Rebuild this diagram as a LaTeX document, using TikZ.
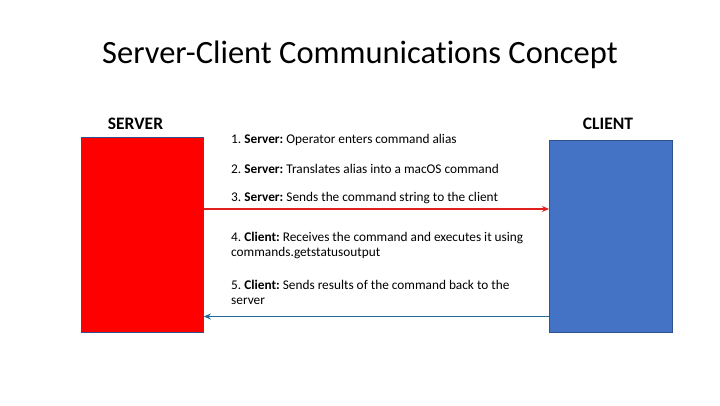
\documentclass[tikz,border=0pt]{standalone}
\usepackage{fontspec}
\setmainfont[Ligatures=NoCommon]{Carlito}
\frenchspacing
\usetikzlibrary{arrows.meta}
\definecolor{srvred}{HTML}{FF0000}
\definecolor{clblue}{HTML}{4472C4}
\definecolor{edgeblue}{HTML}{2F528F}
\definecolor{arrred}{HTML}{E0201E}
\definecolor{arrblue}{HTML}{22689A}
\tikzset{
  hostbox/.style={draw=edgeblue, line width=0.8pt, inner sep=0pt, anchor=north west},
  hostlabel/.style={font=\fontsize{17.5}{21}\selectfont\bfseries, anchor=base, inner sep=0pt},
  steptext/.style={font=\fontsize{13.3}{15}\selectfont, anchor=base west, inner sep=0pt, align=left},
  msg/.style={line width=1.3pt, -{Stealth[length=7pt,width=6pt]}}
}
\begin{document}
\begin{tikzpicture}[x=1pt,y=-1pt]
\useasboundingbox (0,0) rectangle (720,405);
\node[font=\fontsize{32.5}{38}\selectfont, anchor=base, inner sep=0pt] (title) at (360,63) {Server-Client Communications Concept};
\node[hostbox, fill=srvred, minimum width=122pt, minimum height=195pt] (server) at (81,137) {};
\node[hostbox, fill=clblue, minimum width=123pt, minimum height=192pt] (client) at (549,140) {};
\node[hostlabel] (serverlbl) at (135.5,129) {SERVER};
\node[hostlabel] (clientlbl) at (608,129) {CLIENT};
\node[steptext] (s1) at (231,143) {1. \textbf{Server:} Operator enters command alias};
\node[steptext] (s2) at (231,173) {2. \textbf{Server:} Translates alias into a macOS command};
\node[steptext] (s3) at (231,201) {3. \textbf{Server:} Sends the command string to the client};
\node[steptext] (s4) at (231,256) {4. \textbf{Client:} Receives the command and executes it using\\commands.getstatusoutput};
\node[steptext] (s5) at (231,304) {5. \textbf{Client:} Sends results of the command back to the\\server};
\coordinate (a1s) at (server.east |- 0,209);
\coordinate (a1e) at (client.west |- 0,209);
\coordinate (a2s) at (client.west |- 0,316.5);
\coordinate (a2e) at (server.east |- 0,316.5);
\draw[msg, arrred] (a1s) -- (a1e);
\draw[msg, arrblue] (a2s) -- (a2e);
\end{tikzpicture}
\end{document}
